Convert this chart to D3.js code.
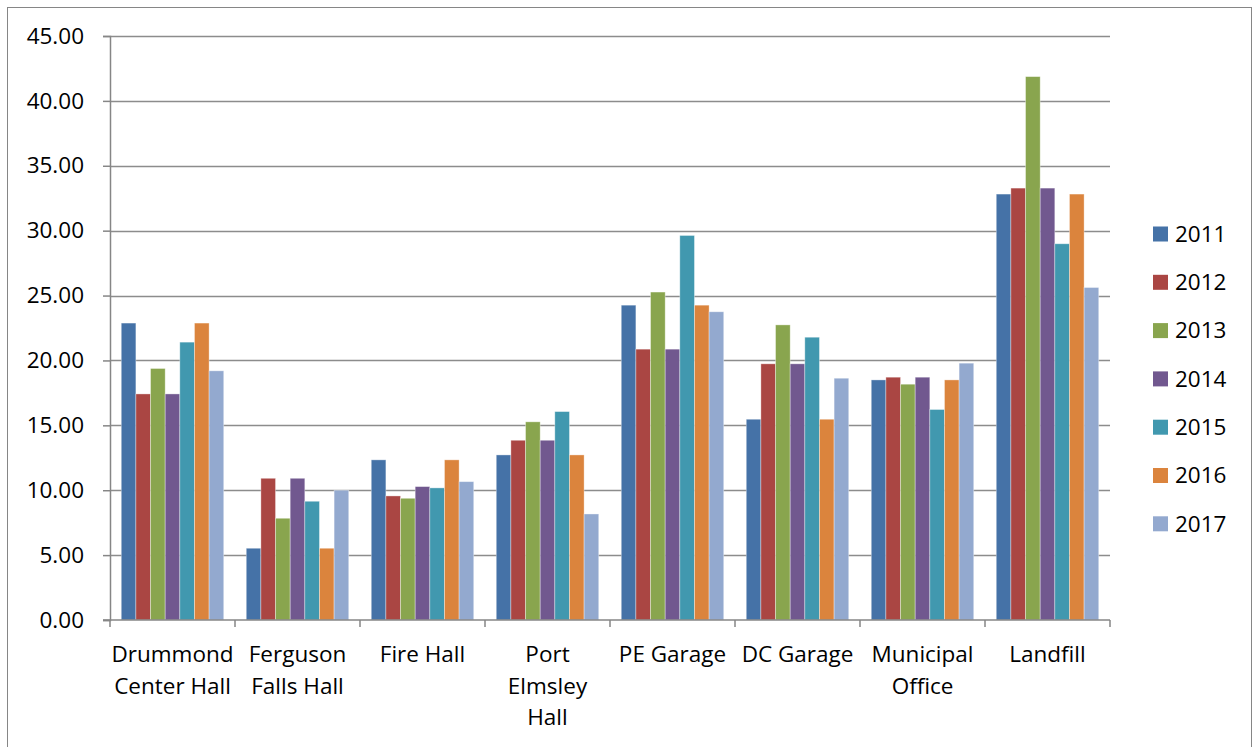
<!DOCTYPE html>
<html>
<head>
<meta charset="utf-8">
<script src="https://cdn.jsdelivr.net/npm/d3@7"></script>
<style>
  body { margin: 0; background: #fff; }
  svg text { font-family: "Open Sans", sans-serif; fill: #000; }
</style>
</head>
<body>
<div id="chart"></div>
<script>
// sites along the x axis (each is a list of label lines)
var sites = [
    ["Drummond", "Center Hall"],
    ["Ferguson", "Falls Hall"],
    ["Fire Hall"],
    ["Port", "Elmsley", "Hall"],
    ["PE Garage"],
    ["DC Garage"],
    ["Municipal", "Office"],
    ["Landfill"]
];
var years = ["2011", "2012", "2013", "2014", "2015", "2016", "2017"];

// one array per year, in site order
var v2011 = [22.88, 5.53, 12.34, 12.72, 24.26, 15.47, 18.50, 32.82];
var v2012 = [17.42, 10.92, 9.56, 13.85, 20.87, 19.74, 18.71, 33.28];
var v2013 = [19.38, 7.84, 9.38, 15.27, 25.27, 22.74, 18.17, 41.87];
var v2014 = [17.42, 10.92, 10.28, 13.85, 20.87, 19.74, 18.71, 33.28];
var v2015 = [21.41, 9.15, 10.18, 16.06, 29.63, 21.79, 16.22, 28.99];
var v2016 = [22.88, 5.53, 12.34, 12.72, 24.26, 15.47, 18.50, 32.82];
var v2017 = [19.20, 10.00, 10.66, 8.17, 23.75, 18.63, 19.79, 25.62];
var yTicks = [0, 5, 10, 15, 20, 25, 30, 35, 40, 45];

var series = [v2011, v2012, v2013, v2014, v2015, v2016, v2017];
var colors = ["#4572A7", "#AA4643", "#89A54E", "#71588F", "#4198AF", "#DB843D", "#93A9CF"];

var width = 1253, height = 747;
var margin = {left: 110, right: 143, top: 36, bottom: 127};
var fontSize = "22.5px";

var svg = d3.select("#chart")
    .append("svg")
    .attr("width", width)
    .attr("height", height);

// chart frame
svg.append("rect")
    .attr("x", 7.5).attr("y", 7.5)
    .attr("width", width - 9).attr("height", height)
    .attr("fill", "none")
    .attr("stroke", "#868686")
    .attr("stroke-width", 1);

var x = d3.scaleBand()
    .domain(d3.range(sites.length))
    .range([margin.left, width - margin.right])
    .paddingInner(0.18)
    .paddingOuter(0.09);

var xInner = d3.scaleBand()
    .domain(years)
    .range([0, x.bandwidth()]);

var y = d3.scaleLinear()
    .domain([0, 45])
    .range([height - margin.bottom, margin.top]);

// gridlines
svg.append("g")
    .selectAll("line")
    .data(yTicks.slice(1))
    .enter()
    .append("line")
    .attr("x1", margin.left)
    .attr("x2", width - margin.right)
    .attr("y1", function(d) { return Math.round(y(d)) + 0.5; })
    .attr("y2", function(d) { return Math.round(y(d)) + 0.5; })
    .attr("stroke", "#8c8c8c")
    .attr("stroke-width", 1.5);

// bars
var groups = svg.append("g")
    .selectAll("g")
    .data(series)
    .enter()
    .append("g")
    .attr("fill", function(d, i) { return colors[i]; });

groups.selectAll("rect")
    .data(function(d, i) { return d.map(function(v, j) { return {v: v, site: j, year: years[i]}; }); })
    .enter()
    .append("rect")
    .attr("x", function(d) { return x(d.site) + xInner(d.year); })
    .attr("y", function(d) { return y(d.v); })
    .attr("width", xInner.bandwidth())
    .attr("height", function(d) { return y(0) - y(d.v); })
    .attr("stroke", "rgba(255,255,255,0.45)")
    .attr("stroke-width", 0.8);

// y axis
var yAxis = d3.axisLeft(y)
    .tickValues(yTicks)
    .tickSize(7)
    .tickPadding(19)
    .tickFormat(d3.format(".2f"));

var gy = svg.append("g")
    .attr("transform", "translate(" + margin.left + ",0)")
    .call(yAxis);
gy.selectAll("path, line").attr("stroke", "#868686").attr("stroke-width", 1.5);
gy.selectAll("text").style("font-size", fontSize).attr("fill", "#000");

// x axis: baseline and boundary ticks
var gx = svg.append("g");
gx.append("line")
    .attr("x1", margin.left - 7).attr("x2", width - margin.right)
    .attr("y1", y(0)).attr("y2", y(0))
    .attr("stroke", "#868686").attr("stroke-width", 1.5);

var step = x.step();
gx.selectAll("line.tick")
    .data(d3.range(sites.length + 1))
    .enter()
    .append("line")
    .attr("class", "tick")
    .attr("x1", function(i) { return margin.left + i * step; })
    .attr("x2", function(i) { return margin.left + i * step; })
    .attr("y1", y(0)).attr("y2", y(0) + 7)
    .attr("stroke", "#868686").attr("stroke-width", 1.5);

// category labels
var labels = gx.selectAll("text")
    .data(sites)
    .enter()
    .append("text")
    .attr("text-anchor", "middle")
    .style("font-size", fontSize)
    .attr("transform", function(d, i) { return "translate(" + (x(i) + x.bandwidth() / 2) + "," + (y(0) + 42) + ")"; });

labels.selectAll("tspan")
    .data(function(d) { return d; })
    .enter()
    .append("tspan")
    .attr("x", 0)
    .attr("y", function(d, i) { return i * 31.5; })
    .text(function(d) { return d; });

// legend
var legend = svg.append("g")
    .selectAll("g")
    .data(years)
    .enter()
    .append("g")
    .attr("transform", function(d, i) { return "translate(1153," + (234 + i * 48.3) + ")"; });

legend.append("rect")
    .attr("x", 0).attr("y", -7.5)
    .attr("width", 15).attr("height", 15)
    .attr("fill", function(d, i) { return colors[i]; });

legend.append("text")
    .attr("x", 22)
    .attr("dy", "0.35em")
    .style("font-size", fontSize)
    .text(function(d) { return d; });
</script>
</body>
</html>
